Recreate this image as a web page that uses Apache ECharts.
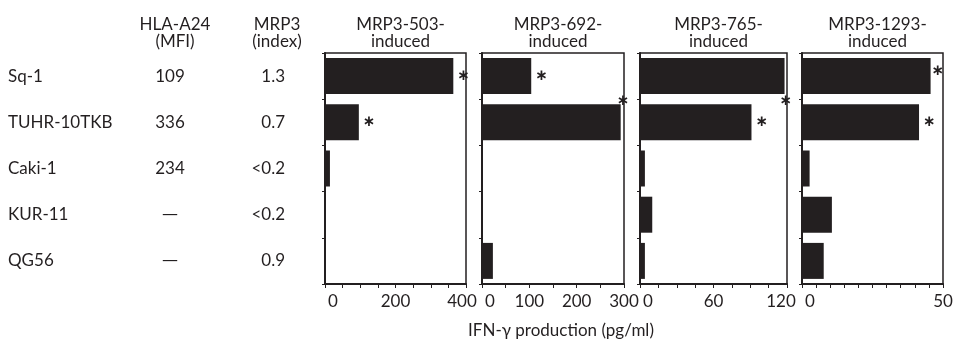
<!DOCTYPE html>
<html>
<head>
<meta charset="utf-8">
<title>MRP3 peptide-induced IFN-γ production</title>
<script src="https://cdn.jsdelivr.net/npm/echarts@6/dist/echarts.min.js"></script>
<style>
  html, body { margin: 0; padding: 0; background: #fff; }
  #chart { width: 958px; height: 339px; }
</style>
</head>
<body>
<div id="chart"></div>
<script>
// cell lines and table columns
var cellLines = ["Sq-1", "TUHR-10TKB", "Caki-1", "KUR-11", "QG56"];
var hlaA24 = ["109", "336", "234", "—", "—"];
var mrp3Index = ["1.3", "0.7", "<0.2", "<0.2", "0.9"];

// IFN-γ production (pg/ml) per peptide
var panelTitles = ["MRP3-503-\ninduced", "MRP3-692-\ninduced", "MRP3-765-\ninduced", "MRP3-1293-\ninduced"];
var ifn503 = [364, 96, 14, 0, 0];
var ifn692 = [104, 293, 1, 1, 23];
var ifn765 = [118, 91, 4, 10, 4];
var ifn1293 = [45.6, 41.5, 2.7, 10.6, 7.7];
var significant = [true, true, false, false, false];

// axis ranges
var xMax = [400, 300, 120, 50];
var xLabelStep = [200, 100, 60, 50];
var xMinorSplit = [4, 2, 4, 10];

var ink = "#231f20";
var font = "Lato";
var fs = 17;
var panels = [ifn503, ifn692, ifn765, ifn1293];

// frame positions (px)
var gridLeft = [325, 482, 640, 802];
var gridWidth = [141, 142, 147, 141];
var gridTop = 53, gridHeight = 231;
// nudge the end labels so neighbouring panels don't run together
var maxShift = [4, 0, 6, 0];

// hand-placed asterisks where the original squeezed them
var starOffset = { "1-1": [-8, -21], "2-0": [-9, 25], "3-0": [-3, -5] };

var chart = echarts.init(document.getElementById("chart"));

var grids = [], xAxes = [], yAxes = [], series = [], titles = [];

function txt(extra) {
  var s = { color: ink, fontFamily: font, fontSize: fs };
  for (var k in extra) s[k] = extra[k];
  return s;
}

panels.forEach(function (vals, i) {
  grids.push({
    left: gridLeft[i], top: gridTop, width: gridWidth[i], height: gridHeight,
    show: true, borderColor: ink, borderWidth: 1.5, backgroundColor: "transparent"
  });
  xAxes.push({
    type: "value", gridIndex: i, min: 0, max: xMax[i], interval: xLabelStep[i],
    axisLine: { show: true, lineStyle: { color: ink, width: 2 } },
    axisTick: { show: true, length: 4, lineStyle: { color: ink } },
    minorTick: { show: true, splitNumber: xMinorSplit[i], length: 4, lineStyle: { color: ink } },
    splitLine: { show: false },
    axisLabel: {
      color: ink, fontFamily: font, fontSize: fs, margin: 9,
      showMinLabel: true, showMaxLabel: true, alignMinLabel: "left",
      formatter: function (v) {
        if (v === 0) return "{lo|0}";
        if (v === xMax[i]) return "{hi|" + v + "}";
        return v;
      },
      rich: {
        lo: txt({ padding: [0, 0, 0, 3] }),
        hi: txt({ padding: [0, maxShift[i] * 2, 0, 0] })
      }
    }
  });
  yAxes.push({
    type: "category", gridIndex: i, data: cellLines, inverse: true,
    axisLine: { show: true, lineStyle: { color: ink, width: 2 } },
    axisTick: { show: true, length: 3, lineStyle: { color: ink } },
    axisLabel: { show: false }
  });
  series.push({
    type: "bar", xAxisIndex: i, yAxisIndex: i, barWidth: 36,
    itemStyle: { color: ink },
    data: vals.map(function (v, k) {
      var off = starOffset[i + "-" + k] || [0, 0];
      return {
        value: v,
        label: {
          show: significant[k], position: "right", distance: 4, offset: off,
          formatter: "∗", fontFamily: "DejaVu Sans", fontSize: 15, fontWeight: "bold", color: ink
        }
      };
    })
  });
  titles.push({
    text: panelTitles[i], left: gridLeft[i] + gridWidth[i] / 2, top: 11,
    textAlign: "center",
    textStyle: txt({ fontWeight: "normal", lineHeight: 17 })
  });
});

// table columns as label-only category axes on the first grid
function tableAxis(data, offset, align) {
  return {
    type: "category", gridIndex: 0, data: data, inverse: true, position: "left", offset: offset,
    axisLine: { show: false }, axisTick: { show: false },
    axisLabel: txt({
      margin: 0, align: align,
      formatter: function (v) { return v === "—" ? "{dash|—}" : v; },
      rich: { dash: txt({ fontFamily: "DejaVu Sans", fontSize: 16 }) }
    })
  };
}
yAxes.push(tableAxis(cellLines, 317, "left"));
yAxes.push(tableAxis(hlaA24, 155, "center"));
yAxes.push(tableAxis(mrp3Index, 40, "right"));

titles.push({
  text: "HLA-A24\n(MFI)", left: 170, top: 11, textAlign: "center",
  textStyle: txt({ fontWeight: "normal", lineHeight: 17 })
});
titles.push({
  text: "MRP3\n(index)", left: 272, top: 11, textAlign: "center",
  textStyle: txt({ fontWeight: "normal", lineHeight: 17 })
});
titles.push({
  text: "IFN-γ production (pg/ml)", left: 556, top: 317, textAlign: "center",
  textStyle: txt({ fontWeight: "normal" })
});

chart.setOption({
  animation: false,
  backgroundColor: "#fff",
  title: titles,
  grid: grids,
  xAxis: xAxes,
  yAxis: yAxes,
  series: series
});
</script>
</body>
</html>
